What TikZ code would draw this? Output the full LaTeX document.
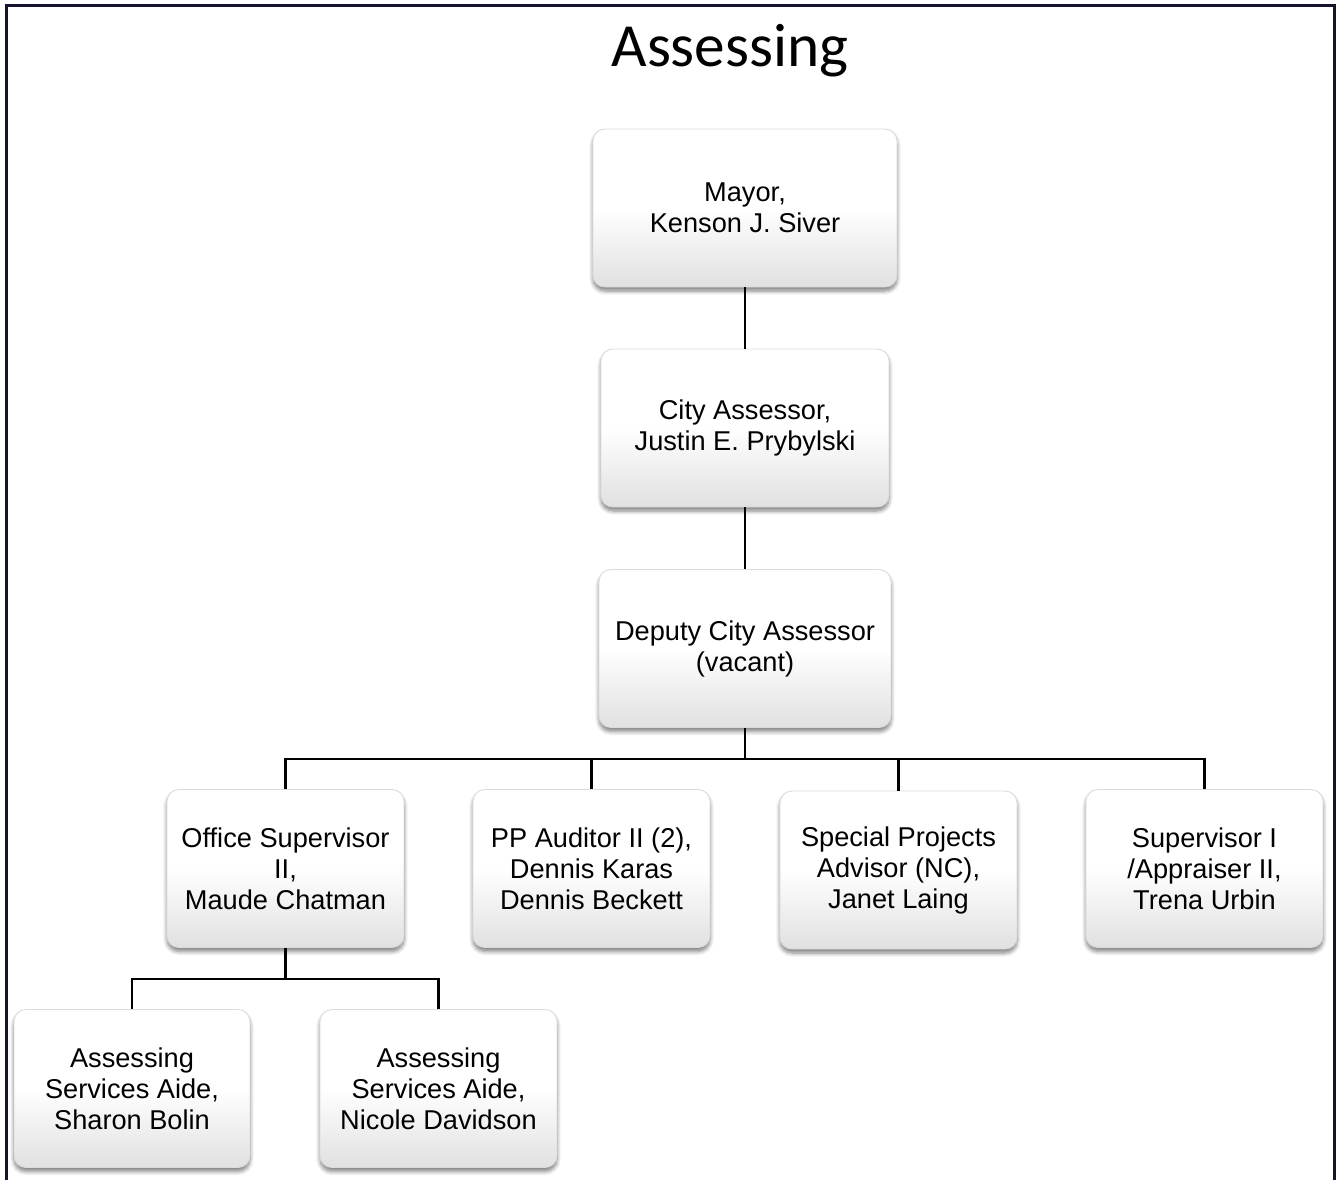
\documentclass[tikz,border=0pt]{standalone}
\usepackage{fontspec}
\setmainfont{Liberation Sans}
\newfontfamily\titlefont{Carlito}
\usetikzlibrary{shadows.blur}
\definecolor{framecol}{HTML}{15132E}
\tikzset{
  orgbox/.style={rounded corners=12pt, draw=black!14, line width=0.9pt,
    top color=white, bottom color=black!12, middle color=white,
    blur shadow={shadow xshift=0pt, shadow yshift=-4pt, shadow blur radius=4pt, shadow blur steps=6, shadow blur extra rounding=2pt, shadow opacity=50},
    inner sep=0pt, align=center, font=\fontsize{27.2}{31}\selectfont, minimum height=158pt},
  wide/.style={orgbox, minimum width=#1},
  link/.style={line width=2.8pt, black},
}
\begin{document}
\begin{tikzpicture}[x=1pt, y=-1pt]
\useasboundingbox (0,0) rectangle (1338,1180);
\draw[framecol, line width=3.5pt] (6.5,1185) -- (6.5,5.5) -- (1334.5,5.5) -- (1334.5,1185);
\node[anchor=base, font=\titlefont\fontsize{61.3}{66}\selectfont] (title) at (730,67) {Assessing};

\node[wide=304pt] (mayor) at (745,208) {Mayor,\\Kenson J. Siver};
\node[wide=288pt] (city) at (745,428) {City Assessor,\\Justin E. Prybylski};
\node[wide=292pt] (deputy) at (745,648.5) {Deputy City Assessor\\(vacant)};

\node[wide=237pt] (office) at (285.5,868.5) {Office Supervisor\\II,\\Maude Chatman};
\node[wide=237pt] (pp) at (591.5,868.5) {PP Auditor II (2),\\Dennis Karas\\Dennis Beckett};
\node[wide=237pt] (special) at (898.5,870) {Special Projects\\Advisor (NC),\\Janet Laing};
\node[wide=237pt] (sup) at (1204.5,868.5) {Supervisor I\\/Appraiser II,\\Trena Urbin};

\node[wide=236pt] (aide1) at (132,1088.5) {Assessing\\Services Aide,\\Sharon Bolin};
\node[wide=237pt] (aide2) at (438.5,1088.5) {Assessing\\Services Aide,\\Nicole Davidson};

\draw[link] (mayor.south) -- (city.north);
\draw[link] (city.south) -- (deputy.north);
\coordinate (bus) at (745,759);
\coordinate (bus2) at (285.5,979);
\draw[link] (deputy.south) -- (bus);
\draw[link] (office.north) |- (bus) -| (sup.north);
\draw[link] (pp.north) -- (pp.north |- bus);
\draw[link] (special.north) -- (special.north |- bus);
\draw[link] (office.south) -- (bus2);
\draw[link] (aide1.north) |- (bus2) -| (aide2.north);
\end{tikzpicture}
\end{document}
